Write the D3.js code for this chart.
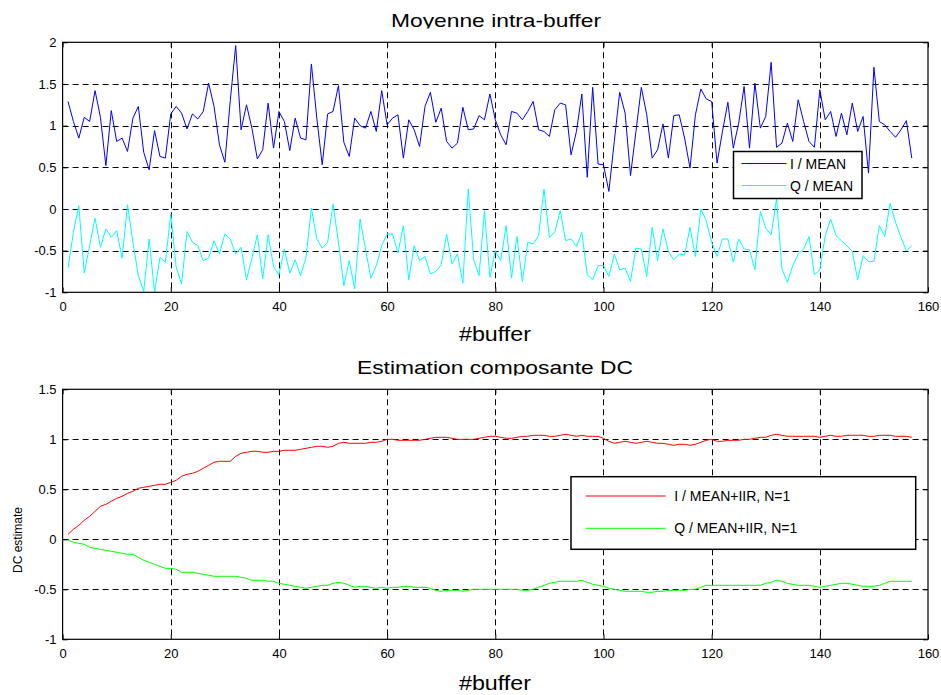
<!DOCTYPE html>
<html><head><meta charset="utf-8">
<script src="https://cdn.jsdelivr.net/npm/d3@7"></script>
<style>
html,body{margin:0;padding:0;background:#fff;}
text{font-family:"Liberation Sans",Arial,Helvetica,sans-serif;fill:#000;}
</style></head>
<body>
<svg id="chart" width="941" height="695"></svg>
<script>
// ---- data ----
const iMean = [1.29,1.05,0.85,1.10,1.05,1.42,1.10,0.52,1.18,0.81,0.85,0.69,1.09,1.23,0.68,0.47,0.94,0.63,0.61,1.14,
1.23,1.15,0.96,1.14,1.08,1.17,1.51,1.23,0.77,0.56,1.30,1.96,0.95,1.25,0.97,0.60,0.71,1.27,0.73,1.17,
1.05,0.70,1.09,0.85,0.83,1.74,1.09,0.53,1.14,1.17,1.48,0.80,0.63,1.09,1.00,0.97,1.17,0.93,1.42,1.01,
1.09,1.13,0.61,1.07,0.95,0.75,1.23,1.40,1.04,1.21,0.81,0.73,0.79,1.22,0.95,0.96,1.12,1.07,1.38,1.07,
0.89,0.77,1.17,1.15,1.07,1.17,1.29,0.95,0.93,0.87,1.19,1.27,1.25,0.65,0.93,1.38,0.38,1.46,0.54,0.53,
0.21,0.81,1.40,1.15,0.40,0.93,1.46,1.13,0.61,0.71,1.02,0.61,1.12,1.13,0.85,0.49,1.13,1.44,1.32,1.29,
0.55,0.93,1.28,0.73,1.03,1.47,0.73,1.51,0.97,1.11,1.76,0.74,0.79,1.03,0.81,1.31,1.05,0.81,0.74,1.43,
1.07,1.17,0.87,1.15,0.89,1.27,0.93,1.11,0.43,1.70,1.05,1.01,0.93,0.86,0.95,1.06,0.61];
const qMean = [-0.71,-0.28,0.04,-0.77,-0.44,-0.11,-0.46,-0.24,-0.34,-0.26,-0.59,0.05,-0.40,-0.80,-0.99,-0.36,-1.00,-0.58,-0.64,-0.06,
-0.70,-0.90,-0.27,-0.40,-0.44,-0.62,-0.59,-0.38,-0.54,-0.30,-0.36,-0.54,-0.46,-0.85,-0.59,-0.31,-0.84,-0.31,-0.69,-0.79,
-0.48,-0.77,-0.61,-0.80,-0.58,0.01,-0.36,-0.47,-0.40,0.06,-0.40,-0.92,-0.62,-0.96,-0.12,-0.48,-0.83,-0.68,-0.44,-0.30,
-0.30,-0.53,-0.20,-0.85,-0.44,-0.62,-0.57,-0.78,-0.75,-0.67,-0.30,-0.66,-0.54,-0.89,0.24,-0.61,-0.80,-0.02,-0.82,-0.50,
-0.62,-0.20,-0.83,-0.33,-0.87,-0.40,-0.42,-0.32,0.24,-0.34,-0.28,-0.02,-0.38,-0.36,-0.45,-0.28,-0.79,-0.85,-0.68,-0.68,
-0.81,-0.54,-0.73,-0.71,-0.87,-0.47,-0.48,-0.81,-0.22,-0.62,-0.24,-0.51,-0.61,-0.54,-0.55,-0.22,-0.57,0.00,-0.14,-0.40,
-0.57,-0.36,-0.36,-0.64,-0.36,-0.48,-0.49,-0.73,-0.03,-0.23,-0.31,0.12,-0.72,-0.88,-0.68,-0.54,-0.48,-0.33,-0.79,-0.73,
-0.32,-0.12,-0.32,-0.38,-0.44,-0.51,-0.85,-0.56,-0.63,-0.63,-0.20,-0.33,0.07,-0.16,-0.34,-0.50,-0.44];
const iIIR = [0.05,0.10,0.14,0.19,0.23,0.28,0.33,0.35,0.38,0.41,0.43,0.46,0.48,0.51,0.52,0.53,0.54,0.55,0.55,0.57,
0.59,0.63,0.65,0.66,0.68,0.71,0.74,0.77,0.78,0.78,0.78,0.83,0.86,0.87,0.88,0.88,0.87,0.87,0.88,0.88,
0.89,0.89,0.89,0.90,0.91,0.92,0.93,0.93,0.92,0.93,0.96,0.97,0.96,0.96,0.96,0.96,0.97,0.97,0.98,1.00,
1.00,0.99,0.99,0.99,0.99,0.99,1.00,1.01,1.02,1.02,1.02,1.01,1.00,1.00,1.00,1.00,1.01,1.02,1.03,1.03,
1.02,1.01,1.01,1.02,1.03,1.03,1.04,1.04,1.04,1.03,1.03,1.04,1.05,1.04,1.03,1.04,1.03,1.03,1.03,1.01,
0.98,0.96,0.97,0.98,0.97,0.96,0.97,0.98,0.97,0.96,0.96,0.95,0.94,0.95,0.95,0.94,0.95,0.97,0.99,1.00,
0.98,0.98,0.99,0.99,0.99,1.00,1.00,1.01,1.02,1.02,1.04,1.05,1.04,1.03,1.03,1.03,1.03,1.03,1.03,1.02,
1.03,1.04,1.03,1.03,1.04,1.04,1.04,1.04,1.03,1.03,1.04,1.04,1.04,1.03,1.03,1.03,1.02];
const qIIR = [-0.01,-0.03,-0.04,-0.05,-0.08,-0.09,-0.10,-0.11,-0.12,-0.13,-0.14,-0.15,-0.15,-0.18,-0.21,-0.23,-0.25,-0.27,-0.29,-0.29,
-0.30,-0.33,-0.33,-0.33,-0.34,-0.35,-0.36,-0.37,-0.37,-0.37,-0.37,-0.37,-0.38,-0.39,-0.41,-0.41,-0.41,-0.42,-0.42,-0.44,
-0.45,-0.46,-0.47,-0.48,-0.49,-0.48,-0.47,-0.46,-0.46,-0.44,-0.43,-0.44,-0.46,-0.48,-0.47,-0.47,-0.48,-0.49,-0.48,-0.49,
-0.48,-0.48,-0.47,-0.47,-0.48,-0.48,-0.48,-0.49,-0.51,-0.52,-0.51,-0.51,-0.51,-0.52,-0.51,-0.50,-0.50,-0.50,-0.50,-0.50,
-0.50,-0.50,-0.50,-0.50,-0.51,-0.51,-0.50,-0.48,-0.46,-0.44,-0.43,-0.42,-0.42,-0.42,-0.42,-0.41,-0.43,-0.45,-0.46,-0.47,
-0.49,-0.50,-0.51,-0.52,-0.52,-0.52,-0.52,-0.53,-0.53,-0.52,-0.52,-0.51,-0.51,-0.51,-0.51,-0.50,-0.50,-0.48,-0.46,-0.46,
-0.46,-0.46,-0.46,-0.46,-0.46,-0.46,-0.46,-0.46,-0.46,-0.44,-0.43,-0.41,-0.42,-0.44,-0.45,-0.46,-0.46,-0.46,-0.47,-0.48,
-0.47,-0.46,-0.45,-0.44,-0.44,-0.45,-0.46,-0.47,-0.47,-0.47,-0.46,-0.44,-0.42,-0.42,-0.42,-0.42,-0.42];

const xTicks = [0,20,40,60,80,100,120,140,160];
const yTicksTop = [-1,-0.5,0,0.5,1,1.5,2];
const yTicksBot = [-1,-0.5,0,0.5,1,1.5];
const titles = ["Moyenne intra-buffer","Estimation composante DC"];
const xLabel = "#buffer";
const yLabelBot = "DC estimate";
const legendTop = ["I / MEAN","Q / MEAN"];
const legendBot = ["I / MEAN+IIR, N=1","Q / MEAN+IIR, N=1"];

// ---- drawing ----
const svg = d3.select("#chart");
svg.append("rect").attr("width",941).attr("height",695).attr("fill","#fff");
const X0 = 62.6, X1 = 928;
const x = d3.scaleLinear().domain([0,160]).range([X0,X1]);

function panel(cfg){
  const y = d3.scaleLinear().domain(cfg.ydom).range([cfg.bottom, cfg.top]);
  const g = svg.append("g");
  g.append("rect").attr("x",X0).attr("y",cfg.top).attr("width",X1-X0).attr("height",cfg.bottom-cfg.top).attr("fill","#fff");
  // grid
  const grid = g.append("g").attr("stroke","#000").attr("stroke-width",1).attr("stroke-dasharray","6,4");
  grid.selectAll(".vx").data(xTicks.slice(1,-1)).join("line")
    .attr("x1",d=>Math.round(x(d))+0.5).attr("x2",d=>Math.round(x(d))+0.5)
    .attr("y1",cfg.top).attr("y2",cfg.bottom);
  grid.selectAll(".hy").data(cfg.yticks.filter(d=>d>cfg.ydom[0]&&d<cfg.ydom[1])).join("line")
    .attr("x1",X0).attr("x2",X1)
    .attr("y1",d=>Math.round(y(d))+0.5).attr("y2",d=>Math.round(y(d))+0.5);
  // series
  const line = d3.line().x((d,i)=>x(i+1)).y(d=>y(d));
  cfg.series.forEach(s=>{
    g.append("path").datum(s.values).attr("fill","none").attr("stroke",s.color)
      .attr("stroke-width",1).attr("d",line);
  });
  // axes
  const ax = g.append("g").attr("transform",`translate(0,${cfg.bottom})`)
    .call(d3.axisBottom(x).tickValues(xTicks).tickSize(-5).tickPadding(9).tickFormat(d3.format("d")));
  g.append("g").attr("transform",`translate(0,${cfg.top})`)
    .call(d3.axisTop(x).tickValues(xTicks).tickSize(-5).tickFormat(""));
  const ay = g.append("g").attr("transform",`translate(${X0},0)`)
    .call(d3.axisLeft(y).tickValues(cfg.yticks).tickSize(-5).tickPadding(6).tickFormat(d=>String(d)));
  g.append("g").attr("transform",`translate(${X1},0)`)
    .call(d3.axisRight(y).tickValues(cfg.yticks).tickSize(-5).tickFormat(""));
  g.selectAll(".domain").remove();
  g.selectAll(".tick line").attr("stroke","#000");
  g.selectAll(".tick text").attr("font-size",13).attr("font-family",'"Liberation Sans",Arial,sans-serif').attr("fill","#000");
  g.append("rect").attr("x",X0).attr("y",cfg.top).attr("width",X1-X0).attr("height",cfg.bottom-cfg.top)
    .attr("fill","none").attr("stroke","#000").attr("stroke-width",1.2);
  // legend
  const L = cfg.legend;
  const lg = g.append("g");
  lg.append("rect").attr("x",L.x0).attr("y",L.y0).attr("width",L.x1-L.x0).attr("height",L.y1-L.y0)
    .attr("fill","#fff").attr("stroke","#000").attr("stroke-width",1.5);
  cfg.series.forEach((s,k)=>{
    lg.append("line").attr("x1",L.lx0).attr("x2",L.lx1).attr("y1",L.ly[k]).attr("y2",L.ly[k])
      .attr("stroke",s.color).attr("stroke-width",1);
    lg.append("text").attr("x",L.tx).attr("y",L.ly[k]+5).attr("font-size",14).text(s.name);
  });
  return y;
}

panel({top:42.3,bottom:292.3,ydom:[-1,2],yticks:yTicksTop,
  series:[{values:iMean,color:"#0000ff",name:legendTop[0]},{values:qMean,color:"#00ffff",name:legendTop[1]}],
  legend:{x0:733.5,y0:151.5,x1:862,y1:198.5,lx0:741.5,lx1:786.5,ly:[163.5,185.5],tx:790}});
panel({top:389.3,bottom:639.3,ydom:[-1,1.5],yticks:yTicksBot,
  series:[{values:iIIR,color:"#ff0000",name:legendBot[0]},{values:qIIR,color:"#00ff00",name:legendBot[1]}],
  legend:{x0:571,y0:476.7,x1:915.7,y1:549.3,lx0:585.7,lx1:665.7,ly:[496,528.3],tx:674.3}});

// titles & labels (titles clipped at the bottom like the original)
const defs = svg.append("defs");
defs.append("clipPath").attr("id","ct1").append("rect").attr("x",0).attr("y",0).attr("width",941).attr("height",28.5);
defs.append("clipPath").attr("id","ct2").append("rect").attr("x",0).attr("y",340).attr("width",941).attr("height",35.5);
svg.append("text").attr("clip-path","url(#ct1)").attr("x",391).attr("y",27).attr("font-size",19)
  .attr("textLength",210).attr("lengthAdjust","spacingAndGlyphs").text(titles[0]);
svg.append("text").attr("clip-path","url(#ct2)").attr("x",357).attr("y",374).attr("font-size",19)
  .attr("textLength",276).attr("lengthAdjust","spacingAndGlyphs").text(titles[1]);
svg.append("text").attr("x",459).attr("y",341).attr("font-size",20)
  .attr("textLength",72).attr("lengthAdjust","spacingAndGlyphs").text(xLabel);
svg.append("text").attr("x",459).attr("y",690).attr("font-size",20)
  .attr("textLength",72).attr("lengthAdjust","spacingAndGlyphs").text(xLabel);
svg.append("text").attr("transform","translate(22,540) rotate(-90)").attr("text-anchor","middle")
  .attr("font-size",12).text(yLabelBot);
</script>
</body></html>
